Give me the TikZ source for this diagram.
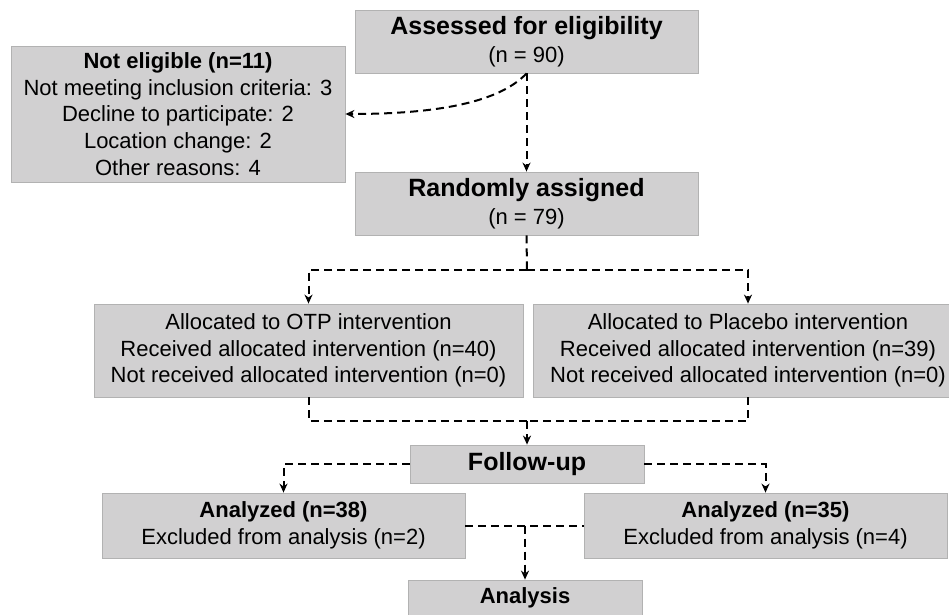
\documentclass[tikz,border=0pt]{standalone}
\usepackage{fontspec}
\setmainfont{Liberation Sans}
\usepackage{tikz}
\usetikzlibrary{calc,shapes,positioning}
\usetikzlibrary{arrows.meta}
\tikzset{>={Stealth[width=8pt,length=9pt]}}
\definecolor{boxgray}{RGB}{209,208,209}
\definecolor{boxedge}{RGB}{178,178,178}

\begin{document}
\begin{tikzpicture}[x=1pt,y=-1pt]
        \useasboundingbox (0,0) rectangle (949,614);

          \tikzstyle{gbox} = [draw=boxedge, fill=boxgray, line width=0.8pt, rectangle, inner sep=0pt, align=center, font=\fontsize{22}{26.7}\selectfont]
          \tikzstyle{dline} = [line width=2pt, dash pattern=on 8pt off 5pt]
          \node[gbox, minimum width=343pt, minimum height=63pt] (assess) at (526.5,41.5) {{\bfseries\fontsize{25}{28}\selectfont Assessed for eligibility}\\[1pt](n = 90)};
          \node[gbox, minimum width=334pt, minimum height=136pt] (noelig) at (178,114) {{\bfseries Not eligible (n=11)}\\Not meeting inclusion criteria: 3\\Decline to participate: 2\\Location change: 2\\Other reasons: 4};
          \node[gbox, minimum width=343pt, minimum height=63pt] (random) at (526.5,203.5) {{\bfseries\fontsize{25}{28}\selectfont Randomly assigned}\\[1pt](n = 79)};

          \node[gbox, minimum width=429pt, minimum height=93pt] (otp) at (308.5,350.5) {Allocated to OTP intervention\\Received allocated intervention (n=40)\\Not received allocated intervention (n=0)};
          \node[gbox, minimum width=430pt, minimum height=93pt] (placebo) at (748,350.5) {Allocated to Placebo intervention\\Received allocated intervention (n=39)\\Not received allocated intervention (n=0)};

          \node[gbox, minimum width=234pt, minimum height=38pt] (follow) at (527,464) {\bfseries\fontsize{25}{28}\selectfont Follow-up};

          \node[gbox, minimum width=363pt, minimum height=65pt] (anal) at (283.5,525.5) {{\bfseries Analyzed (n=38)}\\Excluded from analysis (n=2)};
          \node[gbox, minimum width=363pt, minimum height=65pt] (anar) at (765.5,525.5) {{\bfseries Analyzed (n=35)}\\Excluded from analysis (n=4)};

          \node[gbox, minimum width=234pt, minimum height=36pt] (analysis) at (525,598) {\bfseries Analysis};

          \coordinate (split) at (527,270);
          \coordinate (merge) at (527,421);
          \coordinate (join) at (525,525.5);

          \draw[dline,->] (assess.south) -- (random.north);
          \draw[dline,->] (assess.south) .. controls +(-30,32) and +(80,0) .. (noelig.east);

          \draw[dline] (random.south) -- (split);
          \draw[dline,->] (split) -| (otp.north);
          \draw[dline,->] (split) -| (placebo.north);

          \draw[dline] (otp.south) |- (merge);
          \draw[dline] (placebo.south) |- (merge);
          \draw[dline,->] (merge) -- (follow.north);

          \draw[dline,->] (follow.west) -| (anal.north);
          \draw[dline,->] (follow.east) -| (anar.north);

          \draw[dline] (anal.east) -- (anar.west);
          \draw[dline,->] (join) -- (analysis.north);

      \end{tikzpicture}
\end{document}
